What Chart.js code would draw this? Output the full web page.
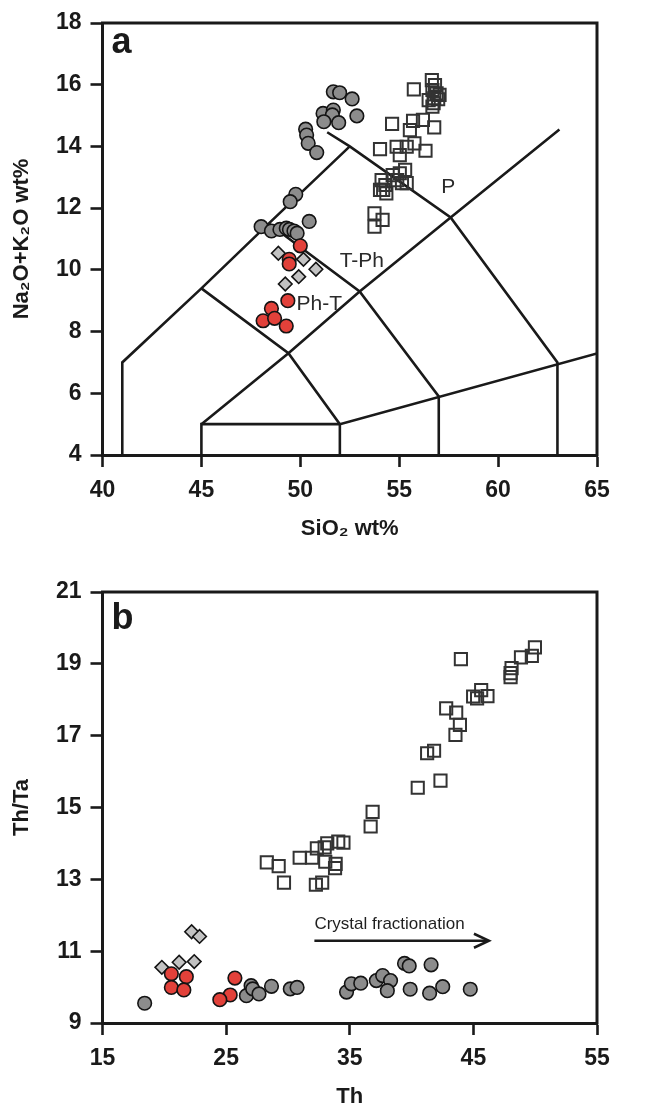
<!DOCTYPE html>
<html>
<head>
<meta charset="utf-8">
<script src="https://cdn.jsdelivr.net/npm/chart.js@4.4.0/dist/chart.umd.min.js"></script>
<style>
html,body{margin:0;padding:0;background:#fff;}
#wrap{position:relative;width:646px;height:1106px;overflow:hidden;background:#fff;}
#ca{position:absolute;left:0;top:0;}
#cb{position:absolute;left:0;top:560px;}
</style>
</head>
<body>
<div id="wrap">
<canvas id="ca" width="646" height="560"></canvas>
<canvas id="cb" width="646" height="546"></canvas>
</div>
<script>
// ---------- Panel a : TAS (SiO2 vs Na2O+K2O) ----------
const aXTicks = [40, 45, 50, 55, 60, 65];
const aYTicks = [4, 6, 8, 10, 12, 14, 16, 18];
const aGrayCircles = [[51.67,15.77],[51.99,15.74],[52.62,15.54],[51.15,15.07],[51.67,15.18],[51.62,15.02],[51.19,14.80],[51.94,14.77],[52.86,14.99],[50.27,14.56],[50.32,14.37],[50.40,14.10],[50.83,13.80],[49.77,12.45],[49.49,12.21],[48.02,11.40],[48.54,11.26],[48.97,11.31],[49.29,11.35],[49.45,11.31],[49.68,11.26],[49.84,11.19],[50.45,11.57]];
const aRedCircles = [[50.00,10.78],[49.44,10.34],[49.44,10.19],[49.37,9.00],[48.54,8.75],[48.12,8.35],[48.70,8.43],[49.29,8.18]];
const aDiamonds = [[48.89,10.54],[50.16,10.34],[50.79,10.02],[49.92,9.78],[49.24,9.54]];
const aSquares = [[56.65,16.15],[56.81,15.99],[56.68,15.83],[56.89,15.72],[57.04,15.67],[56.77,15.56],[56.49,15.50],[56.74,15.40],[56.97,15.53],[56.68,15.29],[55.74,15.85],[54.64,14.73],[55.70,14.83],[56.20,14.86],[56.77,14.62],[55.54,14.53],[54.87,13.99],[54.03,13.91],[55.38,13.99],[55.77,14.10],[56.33,13.86],[55.03,13.72],[55.30,13.24],[55.03,13.13],[54.67,13.07],[54.11,12.91],[54.30,12.75],[54.19,12.59],[54.03,12.59],[54.35,12.48],[55.14,12.81],[55.38,12.81],[54.90,12.91],[53.75,11.83],[54.16,11.62],[53.75,11.40]];
// TAS field boundaries (Le Bas et al. 1986)
const tasLine1 = [[41,4],[41,7],[45,9.4],[48.4,11.5],[52.5,14]];
const tasLine2 = [[45,9.4],[49.4,7.3],[52,5],[52,4]];
const tasLine3 = [[45,4],[45,5],[52,5],[65,7.29]];
const tasLine4 = [[45,5],[49.4,7.3],[53,9.3],[57.6,11.7],[63.1,14.55]];
const tasLine5 = [[48.4,11.5],[53,9.3],[57,5.9],[57,4]];
const tasLine6 = [[51.36,14.46],[52.5,14],[57.6,11.7],[63,7],[63,4]];
const tasFieldNames = ['P', 'T-Ph', 'Ph-T'];
const tasFieldAnchors = [[57.12,12.48],[51.99,10.10],[49.81,8.70]];

// ---------- Panel b : Th/Ta vs Th ----------
const bXTicks = [15, 25, 35, 45, 55];
const bYTicks = [9, 11, 13, 15, 17, 19, 21];
const bSquares = [[49.98,19.46],[49.73,19.22],[48.85,19.18],[48.09,18.88],[48.01,18.74],[48.01,18.63],[43.99,19.13],[45.63,18.27],[44.98,18.09],[45.30,18.04],[46.14,18.10],[42.80,17.76],[43.61,17.64],[43.91,17.30],[43.55,17.02],[41.26,16.51],[41.82,16.58],[42.34,15.75],[40.50,15.55],[36.85,14.88],[36.69,14.47],[34.49,14.02],[34.07,14.05],[33.18,14.00],[32.97,13.89],[32.34,13.86],[30.95,13.60],[31.96,13.60],[33.02,13.49],[33.86,13.43],[33.81,13.31],[28.29,13.47],[29.25,13.37],[29.68,12.91],[32.26,12.85],[32.77,12.91]];
const bGrayCircles = [[18.41,9.55],[27.02,10.04],[26.64,9.76],[27.15,9.95],[27.66,9.81],[28.67,10.02],[30.19,9.95],[30.74,9.99],[34.74,9.86],[35.13,10.09],[35.89,10.11],[37.15,10.18],[37.66,10.32],[38.30,10.18],[38.04,9.90],[39.43,10.66],[39.81,10.59],[41.58,10.62],[39.89,9.94],[41.46,9.83],[42.52,10.01],[44.75,9.94]];
const bRedCircles = [[20.57,10.37],[21.78,10.29],[20.57,9.99],[21.58,9.92],[25.71,10.25],[25.33,9.78],[24.49,9.65]];
const bDiamonds = [[22.21,11.54],[22.85,11.41],[19.80,10.55],[21.20,10.69],[22.42,10.71]];
const bArrowFrom = [32.14, 11.29];
const bArrowTo = [46.26, 11.29];
const bArrowText = 'Crystal fractionation';

// ---------- styling ----------
const FONT = "'Liberation Sans', Arial, Helvetica, sans-serif";
const INK = '#1a1a1a';
const pts = a => a.map(([x, y]) => ({x, y}));

function markerSet(data, kind, order) {
  const base = {data: pts(data), showLine: false, order: order, pointBorderWidth: 1.6, pointHoverRadius: 0};
  if (kind === 'gray') return Object.assign(base, {pointStyle: 'circle', pointRadius: 6.8, pointBackgroundColor: '#8c8c8c', pointBorderColor: '#141414'});
  if (kind === 'red') return Object.assign(base, {pointStyle: 'circle', pointRadius: 6.8, pointBackgroundColor: '#e2413a', pointBorderColor: '#141414'});
  if (kind === 'diamond') return Object.assign(base, {pointStyle: 'rectRot', pointRadius: 6.8, pointBackgroundColor: '#c2c2c2', pointBorderColor: '#141414'});
  return Object.assign(base, {pointStyle: 'rect', pointRadius: 8.6, pointBackgroundColor: 'rgba(255,255,255,0)', pointBorderColor: '#333333', pointBorderWidth: 2});
}
function lineSet(data) {
  return {data: pts(data), showLine: true, pointRadius: 0, borderColor: INK, borderWidth: 2.6, order: 20, fill: false, tension: 0};
}

function axis(min, max, ticks, title, fitSize, horizontal, titlePad) {
  return {
    type: 'linear', min: min, max: max,
    afterBuildTicks: s => { s.ticks = ticks.map(v => ({value: v})); },
    afterFit: s => { if (horizontal) s.height = fitSize; else s.width = fitSize; },
    ticks: {color: INK, font: {family: FONT, size: 23, weight: 'bold'}, padding: horizontal ? 10 : 9, maxRotation: 0, autoSkip: false},
    grid: {display: true, drawOnChartArea: false, drawTicks: true, tickLength: 12, tickWidth: 2.6, tickColor: INK},
    border: {display: true, color: INK, width: 3},
    title: {display: true, text: title, color: INK, font: {family: FONT, size: 22, weight: 'bold'}, padding: titlePad}
  };
}

const framePlugin = {
  id: 'frame',
  afterDraw(chart, args, opts) {
    const {ctx, chartArea: ca} = chart;
    ctx.save();
    ctx.strokeStyle = INK; ctx.lineWidth = 3; ctx.lineCap = 'square';
    ctx.beginPath();
    ctx.moveTo(ca.left, ca.top); ctx.lineTo(ca.right, ca.top); ctx.lineTo(ca.right, ca.bottom);
    ctx.stroke();
    ctx.fillStyle = INK; ctx.textBaseline = 'alphabetic'; ctx.textAlign = 'left';
    ctx.font = 'bold 36px ' + FONT;
    ctx.fillText(opts.letter, ca.left + 9, ca.top + opts.letterDy);
    ctx.restore();
  }
};

const tasLabelPlugin = {
  id: 'tasLabels',
  afterDatasetsDraw(chart) {
    const {ctx, scales: {x, y}} = chart;
    ctx.save();
    ctx.fillStyle = '#2a2a2a'; ctx.font = '21px ' + FONT; ctx.textAlign = 'left'; ctx.textBaseline = 'alphabetic';
    tasFieldNames.forEach((t, i) => {
      ctx.fillText(t, x.getPixelForValue(tasFieldAnchors[i][0]), y.getPixelForValue(tasFieldAnchors[i][1]));
    });
    ctx.restore();
  }
};

const arrowPlugin = {
  id: 'arrow',
  afterDatasetsDraw(chart) {
    const {ctx, scales: {x, y}} = chart;
    const x0 = x.getPixelForValue(bArrowFrom[0]), y0 = y.getPixelForValue(bArrowFrom[1]);
    const x1 = x.getPixelForValue(bArrowTo[0]), y1 = y.getPixelForValue(bArrowTo[1]);
    ctx.save();
    ctx.strokeStyle = INK; ctx.lineWidth = 2.5;
    ctx.beginPath(); ctx.moveTo(x0, y0); ctx.lineTo(x1 - 1, y1); ctx.stroke();
    ctx.beginPath(); ctx.moveTo(x1 - 15, y1 - 7); ctx.lineTo(x1, y1); ctx.lineTo(x1 - 15, y1 + 7); ctx.stroke();
    ctx.fillStyle = '#1f1f1f'; ctx.font = '17px ' + FONT; ctx.textAlign = 'left'; ctx.textBaseline = 'alphabetic';
    ctx.fillText(bArrowText, x0, y0 - 11.5);
    ctx.restore();
  }
};

const common = {responsive: false, animation: false, events: []};

new Chart(document.getElementById('ca'), {
  type: 'scatter',
  data: {datasets: [
    markerSet(aRedCircles, 'red', 0),
    markerSet(aDiamonds, 'diamond', 1),
    markerSet(aGrayCircles, 'gray', 2),
    markerSet(aSquares, 'square', 3),
    lineSet(tasLine1), lineSet(tasLine2), lineSet(tasLine3),
    lineSet(tasLine4), lineSet(tasLine5), lineSet(tasLine6)
  ]},
  options: Object.assign({}, common, {
    layout: {padding: {left: 0, top: 23, right: 49, bottom: 0}},
    plugins: {legend: {display: false}, tooltip: {enabled: false}, frame: {letter: 'a', letterDy: 30}},
    scales: {
      x: axis(40, 65, aXTicks, 'SiO\u2082 wt%', 105, true, {top: 0, bottom: 18}),
      y: axis(4, 18, aYTicks, 'Na\u2082O+K\u2082O wt%', 102.5, false, {top: 9, bottom: 0})
    }
  }),
  plugins: [framePlugin, tasLabelPlugin]
});

new Chart(document.getElementById('cb'), {
  type: 'scatter',
  data: {datasets: [
    markerSet(bRedCircles, 'red', 0),
    markerSet(bDiamonds, 'diamond', 1),
    markerSet(bGrayCircles, 'gray', 2),
    markerSet(bSquares, 'square', 3)
  ]},
  options: Object.assign({}, common, {
    layout: {padding: {left: 0, top: 32, right: 49, bottom: 0}},
    plugins: {legend: {display: false}, tooltip: {enabled: false}, frame: {letter: 'b', letterDy: 37}},
    scales: {
      x: axis(15, 55, bXTicks, 'Th', 83, true, {top: 0, bottom: -4}),
      y: axis(9, 21, bYTicks, 'Th/Ta', 102.5, false, {top: 9, bottom: 0})
    }
  }),
  plugins: [framePlugin, arrowPlugin]
});
</script>
</body>
</html>
